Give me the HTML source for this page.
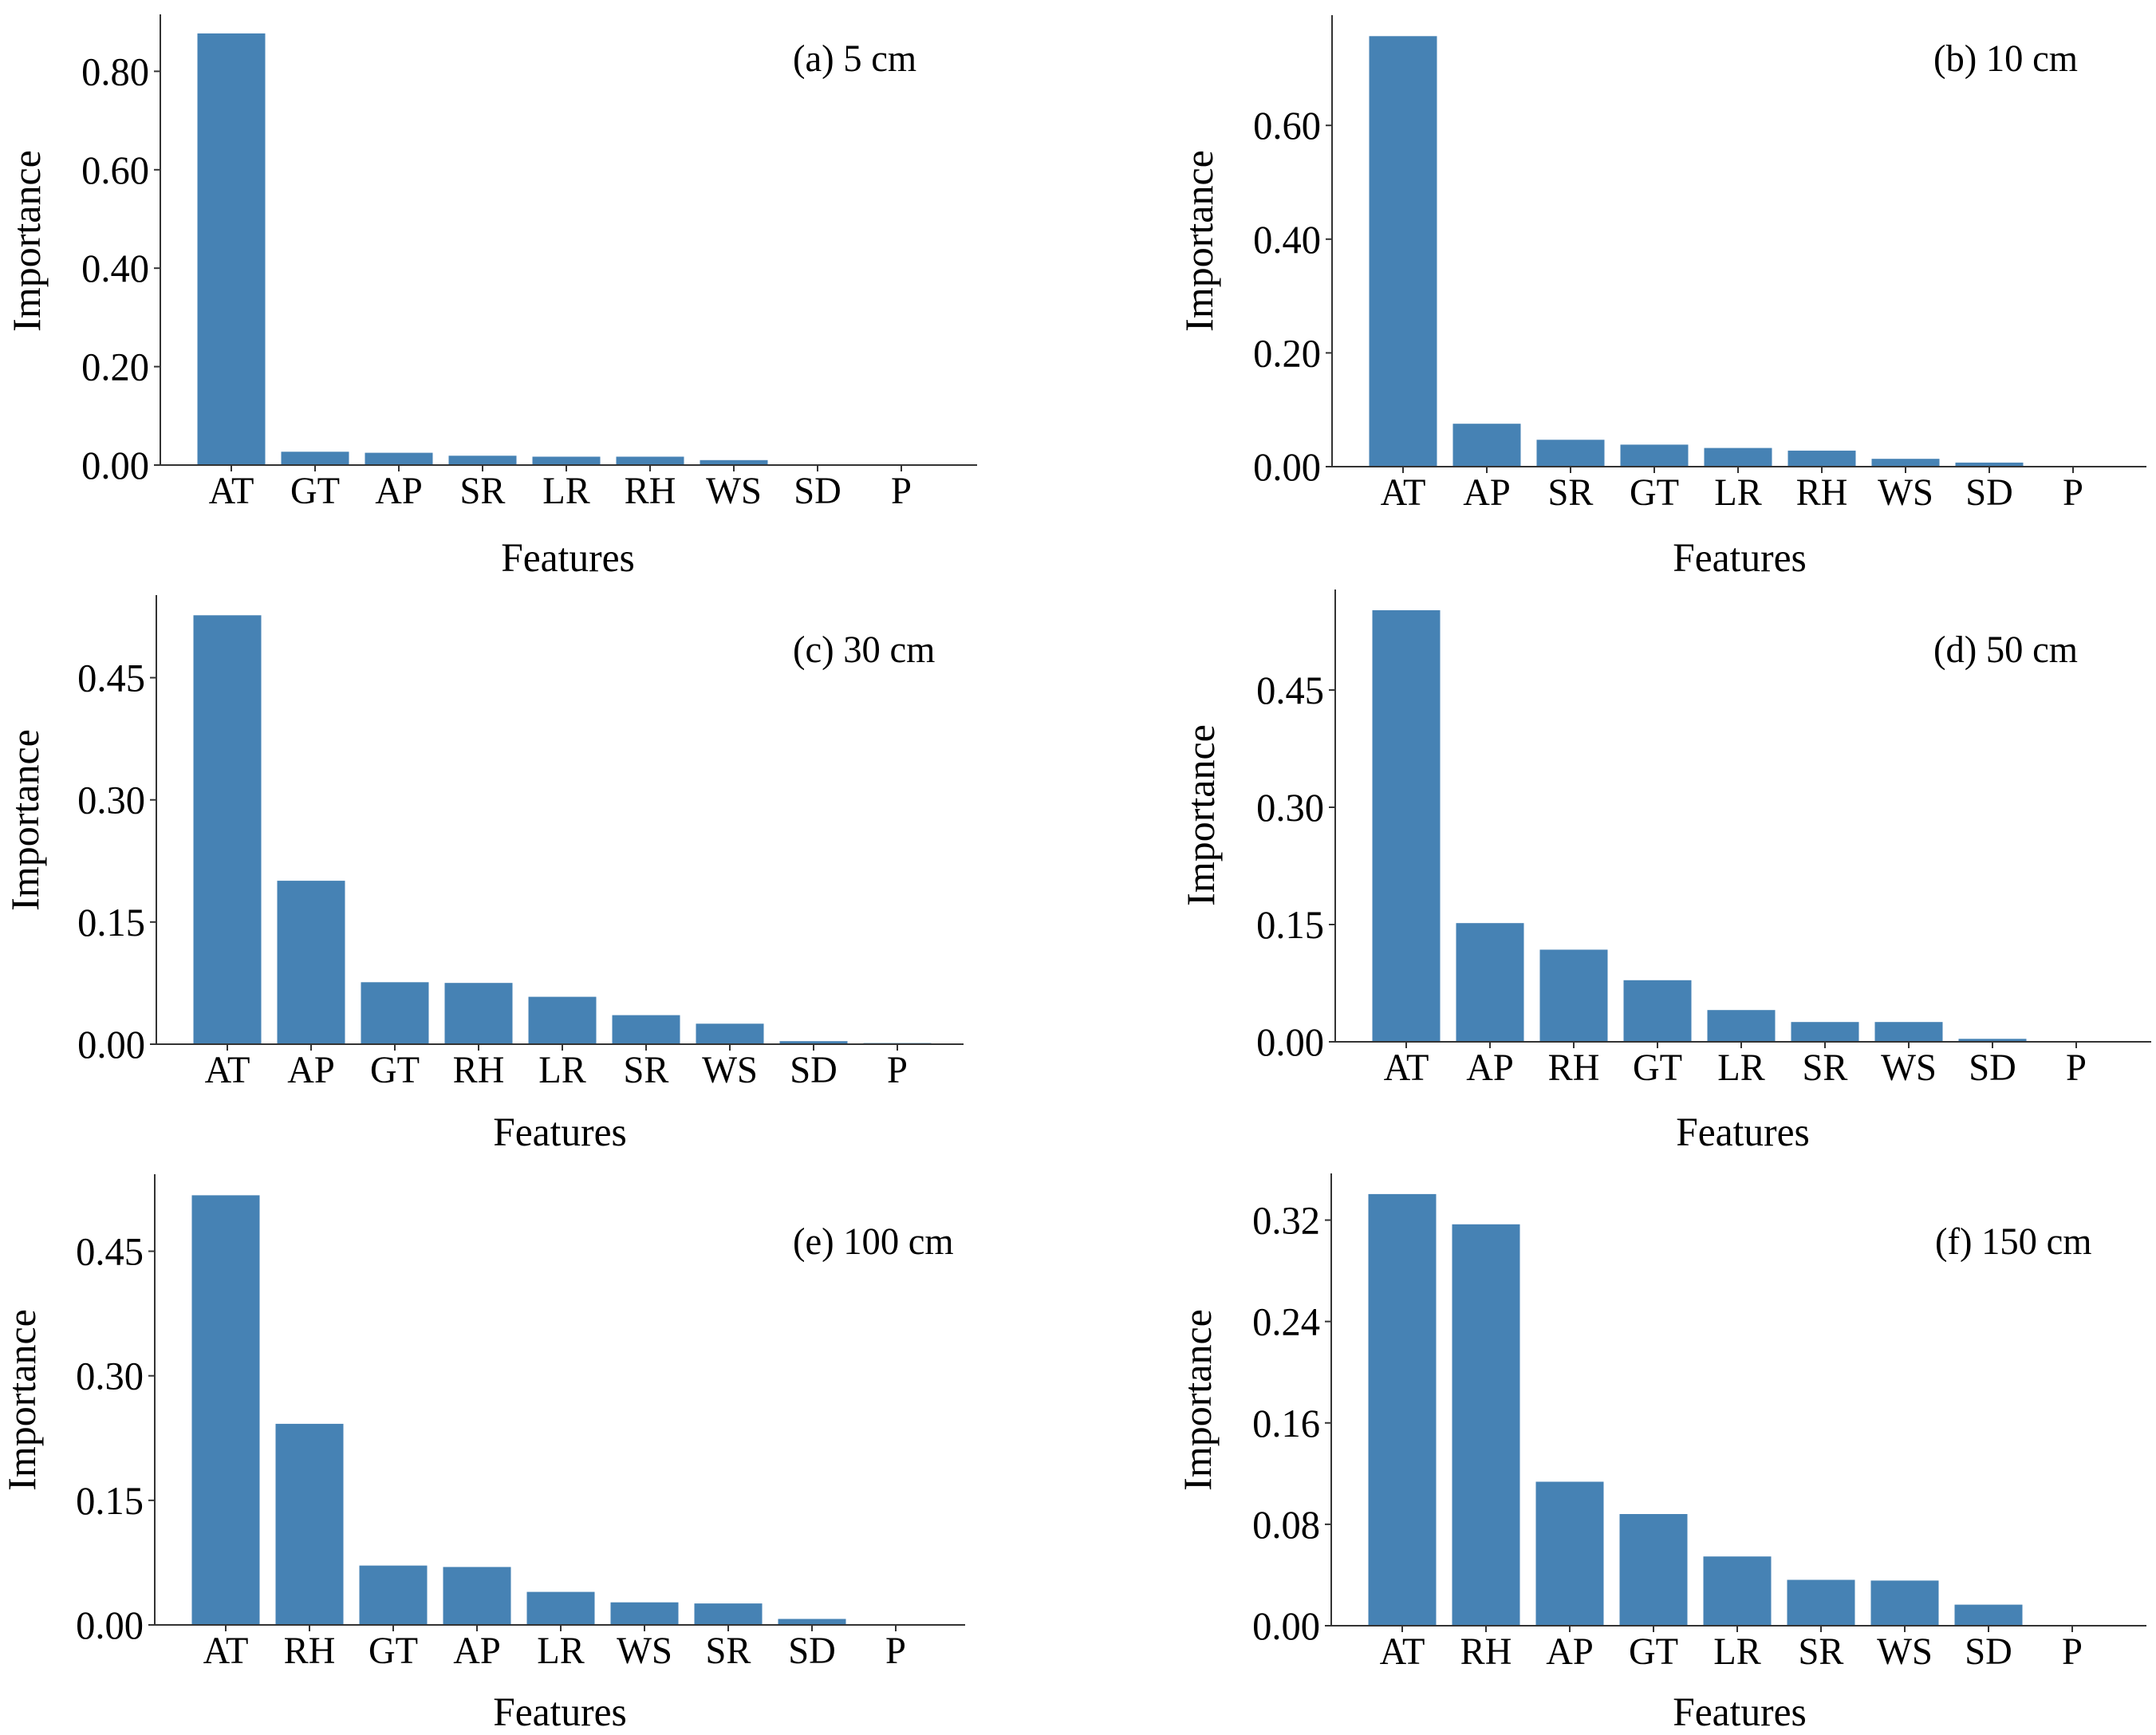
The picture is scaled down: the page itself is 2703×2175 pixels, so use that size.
<!DOCTYPE html>
<html><head><meta charset="utf-8"><style>
html,body{margin:0;padding:0;background:#fff;}
svg{display:block;}
text{font-family:"Liberation Serif",serif;fill:#000;}
</style></head><body>
<svg id="fig" width="2703" height="2175" viewBox="0 0 2703 2175" xmlns="http://www.w3.org/2000/svg">
<rect x="0" y="0" width="2703" height="2175" fill="#fff"/>
</svg>
<script>
// Data arrays
const catsA = ["AT","GT","AP","SR","LR","RH","WS","SD","P"];
const valsA = [0.877,0.027,0.025,0.019,0.017,0.017,0.010,0.0015,0.0];
const ticksA = [0,0.2,0.4,0.6,0.8];
const tickLabelsA = ["0.00","0.20","0.40","0.60","0.80"];

const catsB = ["AT","AP","SR","GT","LR","RH","WS","SD","P"];
const valsB = [0.757,0.0755,0.0473,0.0387,0.0328,0.0282,0.0138,0.0072,0.0];
const ticksB = [0,0.2,0.4,0.6];
const tickLabelsB = ["0.00","0.20","0.40","0.60"];

const catsC = ["AT","AP","GT","RH","LR","SR","WS","SD","P"];
const valsC = [0.5266,0.2007,0.0761,0.0752,0.0582,0.0357,0.0252,0.0037,0.0014];
const ticksC = [0,0.15,0.30,0.45];
const tickLabelsC = ["0.00","0.15","0.30","0.45"];

const catsD = ["AT","AP","RH","GT","LR","SR","WS","SD","P"];
const valsD = [0.552,0.1518,0.1179,0.0788,0.0406,0.0253,0.0253,0.0038,0.001];
const ticksD = [0,0.15,0.30,0.45];
const tickLabelsD = ["0.00","0.15","0.30","0.45"];

const catsE = ["AT","RH","GT","AP","LR","WS","SR","SD","P"];
const valsE = [0.5174,0.2422,0.0715,0.0697,0.0398,0.0272,0.0258,0.0072,0.001];
const ticksE = [0,0.15,0.30,0.45];
const tickLabelsE = ["0.00","0.15","0.30","0.45"];

const catsF = ["AT","RH","AP","GT","LR","SR","WS","SD","P"];
const valsF = [0.3405,0.3167,0.1136,0.0881,0.0546,0.0362,0.0356,0.0166,0.0005];
const ticksF = [0,0.08,0.16,0.24,0.32];
const tickLabelsF = ["0.00","0.08","0.16","0.24","0.32"];

const NS = "http://www.w3.org/2000/svg";
const svg = document.getElementById("fig");

function mk(tag, attrs, parent){
  const e = document.createElementNS(NS, tag);
  for (const k in attrs) e.setAttribute(k, attrs[k]);
  (parent||svg).appendChild(e);
  return e;
}
function ctext(parent, x, y, str, size, anchor, sx){
  const g = mk("g", {transform:`translate(${x},${y}) scale(${sx},1)`}, parent);
  const t = mk("text", {x:0, y:0, "font-size":size, "text-anchor":anchor}, g);
  t.textContent = str;
  return t;
}

const panels = [
  {id:"a", cats:catsA, vals:valsA, ticks:ticksA, tl:tickLabelsA, ax:201, base:583, top:18, right:1225, ppu:617, title:"(a) 5 cm", tx:994, ty:89, ix:50, iy:302, fx:712, fy:716},
  {id:"b", cats:catsB, vals:valsB, ticks:ticksB, tl:tickLabelsB, ax:1670, base:585, top:19, right:2691, ppu:713, title:"(b) 10 cm", tx:2424, ty:89, ix:1520, iy:302, fx:2181, fy:716},
  {id:"c", cats:catsC, vals:valsC, ticks:ticksC, tl:tickLabelsC, ax:196, base:1309, top:746, right:1208, ppu:1021, title:"(c) 30 cm", tx:994, ty:830, ix:48, iy:1028, fx:702, fy:1436},
  {id:"d", cats:catsD, vals:valsD, ticks:ticksD, tl:tickLabelsD, ax:1674, base:1306, top:739, right:2697, ppu:980, title:"(d) 50 cm", tx:2424, ty:830, ix:1522, iy:1022, fx:2185, fy:1436},
  {id:"e", cats:catsE, vals:valsE, ticks:ticksE, tl:tickLabelsE, ax:194, base:2037, top:1472, right:1210, ppu:1041, title:"(e) 100 cm", tx:994, ty:1572, ix:44, iy:1755, fx:702, fy:2163},
  {id:"f", cats:catsF, vals:valsF, ticks:ticksF, tl:tickLabelsF, ax:1669, base:2038, top:1471, right:2691, ppu:1589, title:"(f) 150 cm", tx:2426, ty:1572, ix:1518, iy:1755, fx:2181, fy:2163}
];

panels.forEach(p => {
  const g = mk("g", {});
  
  
  const yScale = v => p.base - v * p.ppu;
  const xScale = i => p.ax + 89 + i * 105;
  const bw = 85;

  p.cats.forEach((c, i) => {
    const h = Math.max(p.vals[i] * p.ppu, 0);
    const r = mk("rect", {x:(xScale(i)-bw/2).toFixed(1), y:yScale(p.vals[i]).toFixed(1), width:bw, height:h.toFixed(1), fill:"#4682b4"}, g);
    
    
    mk("line", {x1:xScale(i), x2:xScale(i), y1:p.base, y2:p.base+8, stroke:"#333", "stroke-width":2}, g);
    const t = ctext(g, xScale(i), p.base+48, c, 48, "middle", 0.97);
    
    
  });

  p.ticks.forEach((v, i) => {
    const y = yScale(v);
    mk("line", {x1:p.ax-8, x2:p.ax, y1:y, y2:y, stroke:"#333", "stroke-width":2}, g);
    const t = ctext(g, p.ax-14, y+17, p.tl[i], 50, "end", 0.97);
    
    
  });

  const ya = mk("line", {x1:p.ax, x2:p.ax, y1:p.top, y2:p.base+1, stroke:"#333", "stroke-width":2}, g);
  
  
  const xa = mk("line", {x1:p.ax-1, x2:p.right, y1:p.base, y2:p.base, stroke:"#333", "stroke-width":2}, g);
  
  

  const title = ctext(g, p.tx, p.ty, p.title, 48, "start", 0.97);
  
  

  const xl = ctext(g, p.fx, p.fy, "Features", 51, "middle", 0.97);
  
  

  const yl = mk("text", {x:0, y:0, "font-size":50, "text-anchor":"middle", transform:`translate(${p.ix},${p.iy}) rotate(-90)`}, g);
  yl.textContent = "Importance";
  
  
});
</script>
</body></html>
